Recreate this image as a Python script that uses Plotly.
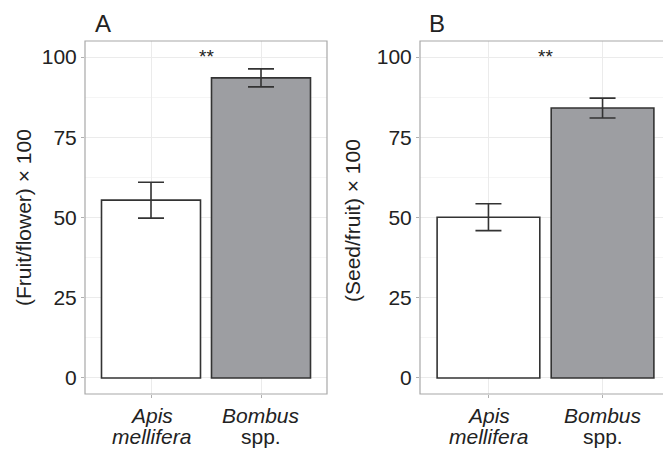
import plotly.graph_objects as go

categories = ["Apis mellifera", "Bombus spp."]
label_line1 = ["<i>Apis</i>", "<i>Bombus</i>"]
label_line2 = ["<i>mellifera</i>", "spp."]
fruit_set = [55.4, 93.5]
fruit_se = [5.6, 2.8]
seed_set = [50.1, 84.1]
seed_se = [4.2, 3.1]
y_ticks = [0, 25, 50, 75, 100]
bar_colors = ["#ffffff", "#9d9ea2"]

FONT = "Liberation Sans, Arial, Helvetica, sans-serif"
TXT = "#222222"

# page body has an 8px margin; figure sized to fit the 671x454 window
OFF = 8
W, H = 671 - OFF, 454 - OFF


def px(x):
    return (x - OFF) / W


def py(y):
    return 1 - (y - OFF) / H


fig = go.Figure()

for vals, se, xa, ya in [(fruit_set, fruit_se, "x", "y"), (seed_set, seed_se, "x2", "y2")]:
    fig.add_trace(go.Bar(
        x=categories, y=vals, xaxis=xa, yaxis=ya, width=0.9,
        marker=dict(color=bar_colors, line=dict(color="#333333", width=1.6)),
        error_y=dict(type="data", array=se, arrayminus=se, color="#333333",
                     thickness=1.6, width=13),
        showlegend=False, hoverinfo="skip",
    ))

axis_common = dict(
    type="category", range=[-0.6, 1.6], showgrid=True, gridcolor="#ebebeb", gridwidth=1,
    ticks="outside", ticklen=3, tickcolor="#b0b0b0", showticklabels=False,
    showline=False, zeroline=False, fixedrange=True,
)
yaxis_common = dict(
    range=[-5, 105], tickvals=y_ticks, ticktext=[str(v) for v in y_ticks],
    showgrid=True, gridcolor="#ebebeb", gridwidth=1,
    minor=dict(dtick=12.5, tick0=0, showgrid=True, gridcolor="#f5f5f5", gridwidth=1),
    ticks="outside", ticklen=3, tickcolor="#b0b0b0",
    tickfont=dict(family=FONT, size=21, color=TXT),
    showline=False, zeroline=False, fixedrange=True,
)

ydom = [py(394), py(41)]
fig.update_layout(
    width=W, height=H, margin=dict(l=0, r=0, t=0, b=0),
    paper_bgcolor="white", plot_bgcolor="white",
    xaxis=dict(domain=[px(85), px(327)], anchor="y", **axis_common),
    yaxis=dict(domain=ydom, anchor="x", **yaxis_common),
    xaxis2=dict(domain=[px(420), 1.0], anchor="y2", **axis_common),
    yaxis2=dict(domain=ydom, anchor="x2", **yaxis_common),
    bargap=0.1,
)

# panel borders
for xr, yr, x1 in [("x domain", "y domain", 1), ("x2 domain", "y2 domain", 1.02)]:
    fig.add_shape(type="rect", xref=xr, yref=yr, x0=0, x1=x1, y0=0, y1=1,
                  line=dict(color="#a8a8a8", width=1.2), layer="above")

ann = []
for xa, ya, letter, ytitle, lx, tx, ty in [
    ("x", "y", "A", "(Fruit/flower) × 100", 103, 23, 218),
    ("x2", "y2", "B", "(Seed/fruit) × 100", 437, 353, 221),
]:
    ann.append(dict(text=letter, x=px(lx), y=py(8), xref="paper", yref="paper",
                    xanchor="center", yanchor="top", showarrow=False,
                    font=dict(family=FONT, size=24, color=TXT)))
    ann.append(dict(text=ytitle, x=px(tx), y=py(ty), xref="paper", yref="paper",
                    xanchor="center", yanchor="middle", textangle=-90, showarrow=False,
                    font=dict(family=FONT, size=21, color=TXT)))
    ann.append(dict(text="**", x=0.5, y=100.3, xref=xa, yref=ya, showarrow=False,
                    xanchor="center", yanchor="middle",
                    font=dict(family=FONT, size=19, color=TXT)))
    for i, c in enumerate(categories):
        ann.append(dict(text=label_line1[i], x=i, y=py(415), xref=xa, yref="paper",
                        xanchor="center", yanchor="middle", showarrow=False,
                        font=dict(family=FONT, size=21, color=TXT)))
        ann.append(dict(text=label_line2[i], x=i, y=py(436), xref=xa, yref="paper",
                        xanchor="center", yanchor="middle", showarrow=False,
                        font=dict(family=FONT, size=21, color=TXT)))
fig.update_layout(annotations=ann)

fig.write_html("out.html")
